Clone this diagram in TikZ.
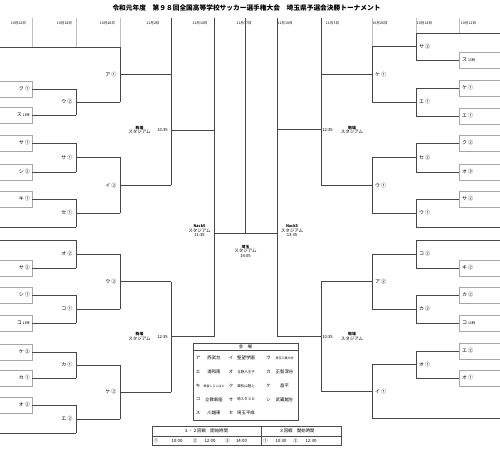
\documentclass[tikz,border=0pt]{standalone}
\usepackage{fontspec}
\setmainfont{Noto Sans CJK JP}
\newcommand\fsz[1]{\fontsize{#1}{#1}\selectfont}
\newcommand\LM[6]{%
  \draw[ln] (#2,#3) -- (#2,#4);
  \coordinate (#1) at (#2,{(#3+#4)/2});
  \draw[ln] (#1) -- (#5,{(#3+#4)/2});
  \node[lab,anchor=east] (#1t) at ([xshift=-3.5pt]#1) {#6};
}
\newcommand\RM[6]{%
  \draw[ln] (#2,#3) -- (#2,#4);
  \coordinate (#1) at (#2,{(#3+#4)/2});
  \draw[ln] (#1) -- (#5,{(#3+#4)/2});
  \node[lab,anchor=west] (#1t) at ([xshift=3pt]#1) {#6};
}
\begin{document}
\begin{tikzpicture}[x=1pt,y=-1pt,
  ln/.style={draw=black!72,line width=0.7pt},
  hd/.style={draw=black!25,line width=1pt},
  bx/.style={draw=black!35,line width=0.9pt,minimum height=16pt,inner sep=0pt},
  lab/.style={inner sep=0pt,font=\fsz{5}},
  dat/.style={inner sep=0pt,font=\fsz{3.6}},
  ven/.style={inner sep=0pt,align=center,font=\fsz{4.5}},
  tim/.style={inner sep=0pt,font=\fsz{4.2}},
  lg/.style={inner sep=0pt,font=\fsz{4.4}},
]
\useasboundingbox (0,0) rectangle (500,454);
\fill[white] (0,0) rectangle (500,454);

% title
\node[inner sep=0pt,font=\fsz{6.7}\bfseries] (title) at (246.5,7.5) {令和元年度　第９８回全国高等学校サッカー選手権大会　埼玉県予選会決勝トーナメント};

% dates
\foreach \x/\tx [count=\i] in {18.5/10月12日,64.5/10月14日,107.5/10月26日,153/11月2日,200/11月10日,244/11月17日,285/11月10日,332.5/11月3日,380/10月26日,424.5/10月14日,468.5/10月12日}
  \node[dat] (d\i) at (\x,23) {\tx};

% header separators
\foreach \x/\yb in {32/47,76/47,120/47,372/47,416/33,459/33}
  \draw[hd] (\x,18) -- (\x,\yb);
\foreach \x/\yb in {171/75,214/130,277/130,321/75}
  \draw[ln] (\x,18) -- (\x,\yb);

% left boxes
\foreach \y/\tx [count=\i] in {89/ク\,①,115/{ス\,{\fsz{3.4}13時}},143/サ\,①,172/シ\,②,199/キ\,①,268/サ\,②,295/シ\,①,323/{コ\,{\fsz{3.4}13時}},352/ケ\,②,378/カ\,①,405/オ\,②}{
  \node[bx,minimum width=34pt] (lb\i) at (15,\y) {};
  \node[lab,anchor=east] (lt\i) at (30,\y) {\tx};
  \draw[ln] (lb\i.east) -- (76,\y);
}
% left byes
\foreach \y/\xe [count=\i] in {47/120,227/76,240/76,433/76}{
  \coordinate (lby\i) at (0,\y);
  \draw[ln] (lby\i) -- (\xe,\y);
}
\LM{a1}{76}{89}{115}{120}{ウ\,②}
\LM{a2}{76}{143}{172}{120}{サ\,①}
\LM{a3}{76}{199}{227}{120}{セ\,①}
\LM{a4}{76}{240}{268}{120}{オ\,②}
\LM{a5}{76}{295}{323}{120}{コ\,①}
\LM{a6}{76}{352}{378}{120}{カ\,①}
\LM{a7}{76}{405}{433}{120}{エ\,②}
\LM{b1}{120}{47}{102}{171}{ア\,①}
\LM{b2}{120}{157.5}{213}{171}{イ\,②}
\LM{b3}{120}{254}{309}{171}{ウ\,②}
\LM{b4}{120}{365}{419}{171}{ケ\,②}
\LM{c1}{171}{74.5}{185.25}{214}{}
\LM{c2}{171}{281.5}{392}{214}{}
\LM{s1}{214}{129.9}{336.75}{245.5}{}

% right boxes
\foreach \y/\tx [count=\i] in {60/{ス\,{\fsz{3.4}13時}},88/ケ\,①,116/エ\,①,143/ク\,②,172/オ\,③,199/サ\,②,268/キ\,②,295/カ\,②,323/{コ\,{\fsz{3.4}13時}},351/エ\,②,378/オ\,①}{
  \node[bx,minimum width=44pt] (rb\i) at (481,\y) {};
  \node[lab,anchor=west] (rt\i) at (462,\y) {\tx};
  \draw[ln] (rb\i.west) -- (416,\y);
}
\foreach \y/\xe [count=\i] in {33/416,227/416,240/416,418/372}{
  \coordinate (rby\i) at (500,\y);
  \draw[ln] (rby\i) -- (\xe,\y);
}
\RM{e1}{416}{33}{60}{372}{サ\,②}
\RM{e2}{416}{88}{116}{372}{エ\,①}
\RM{e3}{416}{143}{172}{372}{セ\,②}
\RM{e4}{416}{199}{227}{372}{ウ\,①}
\RM{e5}{416}{240}{268}{372}{コ\,②}
\RM{e6}{416}{295}{323}{372}{カ\,②}
\RM{e7}{416}{351}{378}{372}{オ\,①}
\RM{f1}{372}{46.5}{102}{321}{ケ\,①}
\RM{f2}{372}{157.5}{213}{321}{ウ\,①}
\RM{f3}{372}{254}{309}{321}{ア\,②}
\RM{f4}{372}{364.5}{418}{321}{イ\,①}
\RM{g1}{321}{74.25}{185.25}{277}{}
\RM{g2}{321}{281.5}{391.25}{277}{}
\RM{s2}{277}{129.75}{336.4}{245.5}{}

% final
\coordinate (fin) at (245.5,233.3);
\coordinate (top) at (245.5,18);
\draw[ln] (fin) -- (top);

% venue labels
\node[ven] (v1) at (139.5,130) {{\fsz{3.8}\bfseries 駒場}\\スタジアム};
\node[tim] (t1) at (162.5,130) {10:35};
\node[ven] (v2) at (139.5,336.5) {{\fsz{3.8}\bfseries 駒場}\\スタジアム};
\node[tim] (t2) at (162.5,337) {12:35};
\node[ven] (v3) at (352,130) {{\fsz{3.8}\bfseries 駒場}\\スタジアム};
\node[tim] (t3) at (327.5,130) {12:35};
\node[ven] (v4) at (352,336.5) {{\fsz{3.8}\bfseries 駒場}\\スタジアム};
\node[tim] (t4) at (327.5,337) {10:35};
\node[ven] (v5) at (199.5,231) {{\fsz{3.8}\bfseries Nack5}\\スタジアム\\{\fsz{4.2}11:35}};
\node[ven] (v6) at (292,231) {{\fsz{3.8}\bfseries Nack5}\\スタジアム\\{\fsz{4.2}13:35}};
\node[ven] (v7) at (245.5,251) {{\fsz{3.8}\bfseries 埼玉}\\スタジアム\\{\fsz{4.2}14:05}};

% legend
\node[draw=black!70,line width=0.6pt,minimum width=105pt,minimum height=77pt,inner sep=0pt] (leg) at (245.5,381.5) {};
\draw[black!70,line width=0.5pt] (leg.west |- 0,350.5) -- (leg.east |- 0,350.5);
\node[lg] (lgh) at (245.5,346.8) {会　場};
\foreach \y/\ka/\na/\kb/\nb/\kc/\nc [count=\i] in {
  358/ア/西武台/イ/聖望学園/ウ/{\fsz{3}埼玉工業大学},
  372/エ/浦和南/オ/{\fsz{3.5}与野八王子}/カ/正智深谷,
  386/キ/{\fsz{3}県営しらこばと}/ク/{\fsz{3.5}東松山陸上}/ケ/昌平,
  399.5/コ/立教新座/サ/{\fsz{3.6}埼スタ４Ｇ}/シ/武蔵越生,
  412.5/ス/川越東/セ/埼玉平成/{}/{}}{
  \node[lg] (lka\i) at (198,\y) {\ka};
  \node[lg] (lna\i) at (214,\y) {\na};
  \node[lg] (lkb\i) at (231,\y) {\kb};
  \node[lg] (lnb\i) at (246,\y) {\nb};
  \node[lg] (lkc\i) at (268.5,\y) {\kc};
  \node[lg] (lnc\i) at (284.5,\y) {\nc};
}

% time table
\node[draw=black!70,line width=0.6pt,minimum width=189pt,minimum height=19pt,inner sep=0pt] (tt) at (246.5,436) {};
\draw[black!70,line width=0.5pt] (tt.west) -- (tt.east);
\draw[black!70,line width=0.5pt] (261,426.5) -- (261,445.5);
\node[lg] (tth1) at (206,431.2) {１・２回戦　開始時間};
\node[lg] (tth2) at (297,431.2) {３回戦　開始時間};
\foreach \x/\tx [count=\i] in {156/①,177/10:00,195/②,210/12:00,227.5/③,241.5/14:00,265.5/①,281/10:30,295.5/②,311/12:30}
  \node[lg] (ttr\i) at (\x,441) {\tx};
\end{tikzpicture}
\end{document}
